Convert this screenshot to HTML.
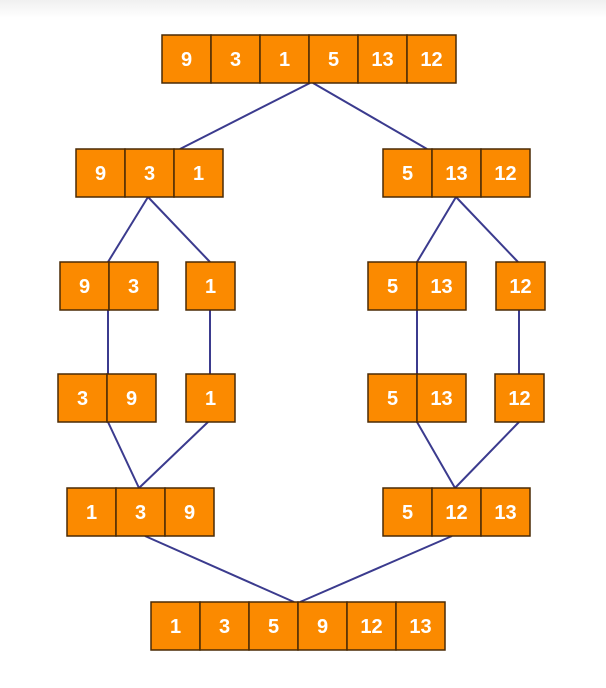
<!DOCTYPE html>
<html><head><meta charset="utf-8"><style>
html,body{margin:0;padding:0;background:#fff;}
body{width:606px;height:688px;overflow:hidden;position:relative;font-family:"Liberation Sans",sans-serif;}
.topband{position:absolute;left:0;top:0;width:606px;height:18px;background:linear-gradient(#f0f0f0,#fff);}
svg{position:absolute;left:0;top:0;}
</style></head><body>
<div class="topband"></div>
<svg width="606" height="688">
<g id="lines" stroke="#3b3b8e" stroke-width="2" fill="none"></g>
<g id="boxes"></g>
</svg>
<script>
const rowValues = [
  [[9,3,1,5,13,12]],
  [[9,3,1],[5,13,12]],
  [[9,3],[1],[5,13],[12]],
  [[3,9],[1],[5,13],[12]],
  [[1,3,9],[5,12,13]],
  [[1,3,5,9,12,13]]
];
const rowY=[35,149,262,374,488,602];
const rowX=[[162],[76,383],[60,186,368,496],[58,186,368,495],[67,383],[151]];
const CW=49, CH=48;
const ns="http://www.w3.org/2000/svg";
const boxes=document.getElementById('boxes');
rowValues.forEach((row,ri)=>{
  row.forEach((grp,gi)=>{
    grp.forEach((v,ci)=>{
      const x=rowX[ri][gi]+ci*CW, y=rowY[ri];
      const r=document.createElementNS(ns,'rect');
      r.setAttribute('x',x);r.setAttribute('y',y);r.setAttribute('width',CW);r.setAttribute('height',CH);
      r.setAttribute('fill','#fb8a00');r.setAttribute('stroke','#4a2a05');r.setAttribute('stroke-width','1.5');
      
      
      boxes.appendChild(r);
      const t=document.createElementNS(ns,'text');
      t.setAttribute('x',x+CW/2);t.setAttribute('y',y+CH/2+7);
      t.setAttribute('text-anchor','middle');t.setAttribute('fill','#fff');
      t.setAttribute('font-size','20');t.setAttribute('font-weight','bold');
      t.setAttribute('font-family','Liberation Sans, sans-serif');
      t.textContent=v;
      
      
      boxes.appendChild(t);
    });
  });
});
const segs=[
 [310,83,180,149],[313,83,427,149],
 [148,197,108,262],[148,197,210,262],
 [456,197,417,262],[456,197,518,262],
 [108,309,108,374],[210,309,210,374],[417,309,417,374],[519,309,519,374],
 [108,422,139,488],[208,422,139,488],[417,422,455,488],[519,422,455,488],
 [145,536,294,602],[452,536,300,602]
];
const lines=document.getElementById('lines');
segs.forEach(s=>{
  const l=document.createElementNS(ns,'line');
  l.setAttribute('x1',s[0]);l.setAttribute('y1',s[1]);l.setAttribute('x2',s[2]);l.setAttribute('y2',s[3]);
  
  
  lines.appendChild(l);
});
</script>
</body></html>
